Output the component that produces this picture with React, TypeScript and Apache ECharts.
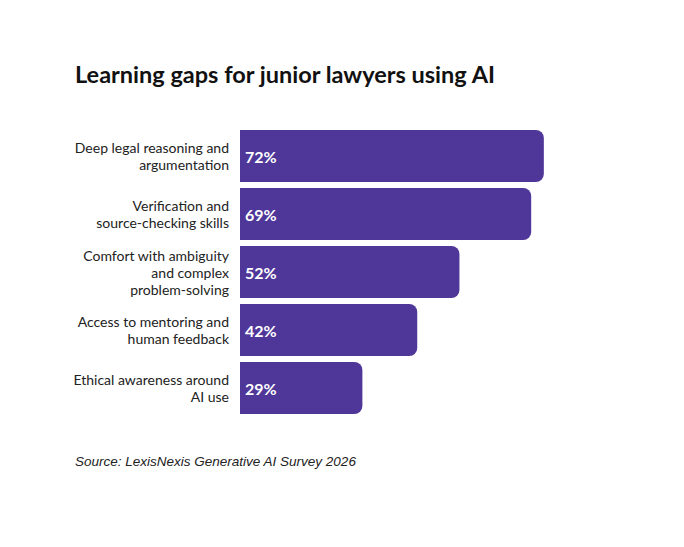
import React, { useEffect, useRef } from "react";
import * as echarts from "echarts";

const categories = [
  "Deep legal reasoning and\nargumentation",
  "Verification and\nsource-checking skills",
  "Comfort with ambiguity\nand complex\nproblem-solving",
  "Access to mentoring and\nhuman feedback",
  "Ethical awareness around\nAI use",
];
const values = [72, 69, 52, 42, 29];
const titleText = "Learning gaps for junior lawyers using AI";
const sourceText = "Source: LexisNexis Generative AI Survey 2026";

export default function App() {
  const ref = useRef<HTMLDivElement>(null);
  useEffect(() => {
    if (!ref.current) return;
    const chart = echarts.init(ref.current, null, { renderer: "svg" });
    chart.setOption({
      animation: false,
      backgroundColor: "#ffffff",
      graphic: [
        {
          type: "text",
          left: 75,
          top: 62,
          style: {
            text: titleText,
            font: "bold 23.5px Lato",
            fill: "#111111",
          },
        },
        {
          type: "text",
          left: 75,
          top: 454,
          style: {
            text: sourceText,
            font: "italic 13.5px 'Liberation Sans', Arial",
            fill: "#222222",
          },
        },
      ],
      grid: { left: 240, right: 22, top: 127, height: 290, containLabel: false },
      xAxis: {
        type: "value",
        min: 0,
        max: 100,
        show: false,
      },
      yAxis: {
        type: "category",
        data: categories,
        inverse: true,
        axisLine: { show: false },
        axisTick: { show: false },
        axisLabel: {
          margin: 11,
          fontFamily: "Lato",
          fontSize: 14,
          lineHeight: 17,
          color: "#222222",
          align: "right",
        },
      },
      series: [
        {
          type: "bar",
          data: values,
          barWidth: 52,
          itemStyle: { color: "#4F3699", borderRadius: [0, 8, 8, 0] },
          label: {
            show: true,
            position: "insideLeft",
            distance: 5,
            formatter: "{c}%",
            color: "#ffffff",
            fontFamily: "Lato",
            fontWeight: "bold",
            fontSize: 16,
          },
        },
      ],
    });
    return () => chart.dispose();
  }, []);
  return <div ref={ref} style={{ width: 684, height: 547, margin: -8 }} />;
}
